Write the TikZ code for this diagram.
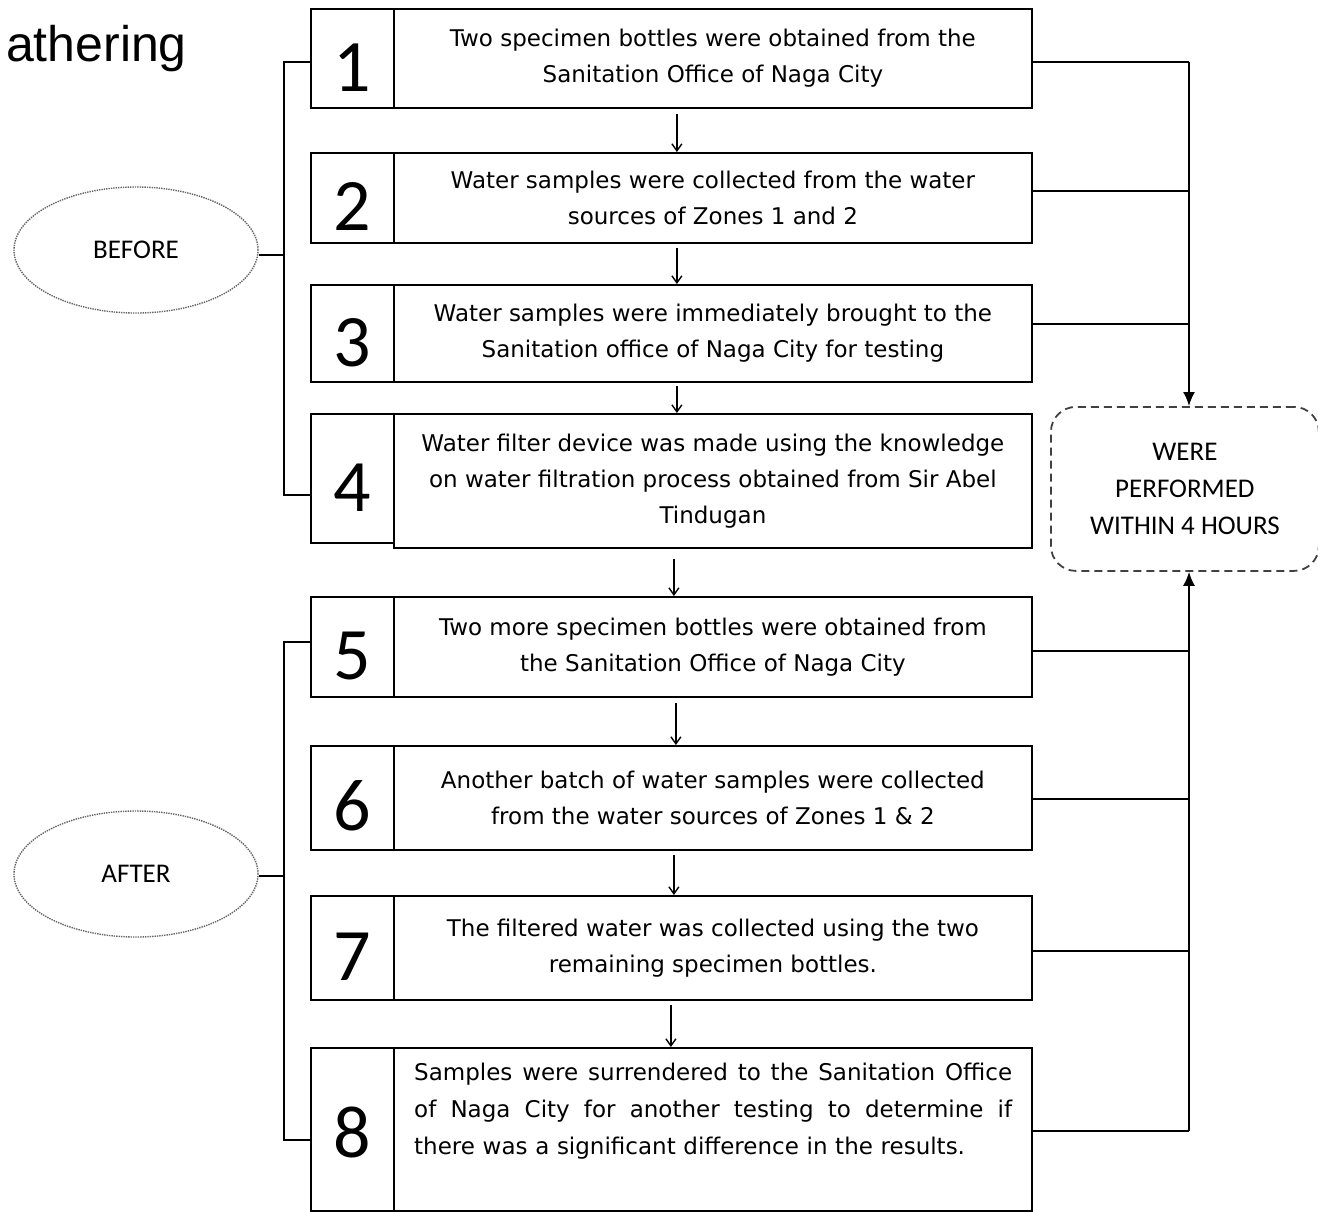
\documentclass[tikz,border=0pt]{standalone}
\usepackage{fontspec}
\setmainfont{DejaVu Sans}
\newfontfamily\numfont{Carlito}
\newfontfamily\titlefont{Liberation Sans}
\usetikzlibrary{arrows.meta,shapes.geometric}
\begin{document}
\begin{tikzpicture}[x=1pt,y=-1pt,
  numbox/.style={draw, line width=1.8pt, minimum width=83pt, anchor=north west, inner sep=0pt,
    text height=66pt, text depth=0pt, font=\numfont\fontsize{74}{74}\selectfont},
  txtbox/.style={draw, line width=1.8pt, minimum width=638pt, anchor=north west, inner sep=0pt,
    align=center, font=\fontsize{23}{36}\selectfont},
  downarr/.style={line width=1.4pt, -{Straight Barb[length=7pt,width=10pt]}},
  conn/.style={line width=1.8pt},
  toarr/.style={line width=1.8pt, -{Latex[length=14pt,width=12pt]}},
  phase/.style={ellipse, draw=black!60, densely dotted, line width=1.4pt, minimum width=244pt,
    minimum height=126pt, font=\numfont\fontsize{27}{27}\selectfont}]
\useasboundingbox (0,0) rectangle (1318,1211);

\node[anchor=base east, inner sep=0pt, font=\titlefont\fontsize{50}{50}\selectfont] (title) at (187,61) {athering};

% step boxes
\node[numbox, minimum height=99pt] (n1) at (310,8) {1};
\node[txtbox, minimum height=99pt] (t1) at (393,8) {Two specimen bottles were obtained from the\\Sanitation Office of Naga City};
\node[numbox, minimum height=90pt] (n2) at (310,152) {2};
\node[txtbox, minimum height=90pt] (t2) at (393,152) {Water samples were collected from the water\\sources of Zones 1 and 2};
\node[numbox, minimum height=97pt] (n3) at (310,284) {3};
\node[txtbox, minimum height=97pt] (t3) at (393,284) {Water samples were immediately brought to the\\Sanitation office of Naga City for testing};
\node[numbox, minimum height=129pt] (n4) at (310,413) {4};
\node[txtbox, minimum height=134pt] (t4) at (393,413) {Water filter device was made using the knowledge\\on water filtration process obtained from Sir Abel\\Tindugan};
\node[numbox, minimum height=100pt] (n5) at (310,596) {5};
\node[txtbox, minimum height=100pt] (t5) at (393,596) {Two more specimen bottles were obtained from\\the Sanitation Office of Naga City};
\node[numbox, minimum height=104pt] (n6) at (310,745) {6};
\node[txtbox, minimum height=104pt] (t6) at (393,745) {Another batch of water samples were collected\\from the water sources of Zones 1 \& 2};
\node[numbox, minimum height=104pt] (n7) at (310,895) {7};
\node[txtbox, minimum height=104pt] (t7) at (393,895) {The filtered water was collected using the two\\remaining specimen bottles.};
\node[numbox, minimum height=163pt, text height=56pt] (n8) at (310,1047) {8};
\node[txtbox, minimum height=163pt] (t8) at (393,1047) {};
\node[anchor=north west, inner sep=0pt, text width=598pt, align=left, font=\fontsize{23}{37}\selectfont] (t8txt) at (414,1063)
  {\makebox[598pt][l]{Samples\hfill were\hfill surrendered\hfill to\hfill the\hfill Sanitation\hfill Office}\\
   \makebox[598pt][l]{of\hfill Naga\hfill City\hfill for\hfill another\hfill testing\hfill to\hfill determine\hfill if}\\
   there was a significant difference in the results.};

% down arrows
\draw[downarr] ([xshift=-36pt,yshift=-5pt]t1.south) -- ([xshift=-36pt]t2.north);
\draw[downarr] ([xshift=-36pt,yshift=-4pt]t2.south) -- ([xshift=-36pt]t3.north);
\draw[downarr] ([xshift=-36pt,yshift=-3pt]t3.south) -- ([xshift=-36pt]t4.north);
\draw[downarr] ([xshift=-39pt,yshift=-10pt]t4.south) -- ([xshift=-39pt]t5.north);
\draw[downarr] ([xshift=-37pt,yshift=-5pt]t5.south) -- ([xshift=-37pt]t6.north);
\draw[downarr] ([xshift=-39pt,yshift=-4pt]t6.south) -- ([xshift=-39pt]t7.north);
\draw[downarr] ([xshift=-42pt,yshift=-4pt]t7.south) -- ([xshift=-42pt]t8.north);

% phase ellipses and brackets
\node[phase] (before) at (136,250) {BEFORE};
\node[phase] (after) at (136,874) {AFTER};
\coordinate (bT) at (284,62);
\coordinate (bB) at (284,495);
\coordinate (aT) at (284,642);
\coordinate (aB) at (284,1140);
\draw[conn] (n1.west |- bT) -- (bT) -- (bB) -- (n4.west |- bB);
\draw[conn] (n5.west |- aT) -- (aT) -- (aB) -- (n8.west |- aB);
\draw[conn] ([yshift=-5pt]before.east) -- ([yshift=-5pt]before.east -| bT);
\draw[conn] ([yshift=-2pt]after.east) -- ([yshift=-2pt]after.east -| aT);

% time box
\node[draw=black!75, dash pattern=on 8pt off 5pt, line width=1.8pt, rounded corners=25pt,
  minimum width=268pt, minimum height=164pt, anchor=north west, align=center,
  font=\numfont\fontsize{27}{37}\selectfont] (wb) at (1050,406) {WERE\\PERFORMED\\WITHIN 4 HOURS};

\coordinate (r1) at (1189,62);
\coordinate (r2) at (1189,191);
\coordinate (r3) at (1189,324);
\coordinate (r5) at (1189,651);
\coordinate (r6) at (1189,799);
\coordinate (r7) at (1189,951);
\coordinate (r8) at (1189,1131);
\draw[conn] (t1.east |- r1) -- (r1);
\draw[conn] (t2.east |- r2) -- (r2);
\draw[conn] (t3.east |- r3) -- (r3);
\draw[toarr] (r1) -- (wb.north -| r1);
\draw[conn] (t5.east |- r5) -- (r5);
\draw[conn] (t6.east |- r6) -- (r6);
\draw[conn] (t7.east |- r7) -- (r7);
\draw[conn] (t8.east |- r8) -- (r8);
\draw[toarr] (r8) -- (wb.south -| r8);
\end{tikzpicture}
\end{document}
